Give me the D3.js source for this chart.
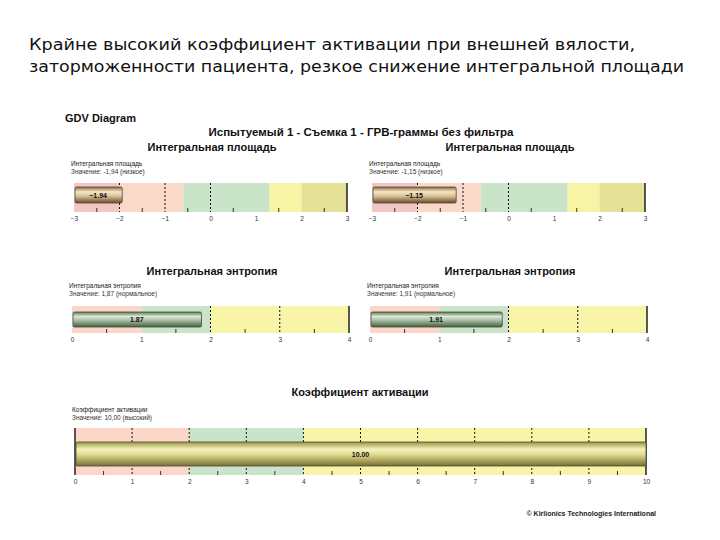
<!DOCTYPE html>
<html><head><meta charset="utf-8">
<script src="https://cdn.jsdelivr.net/npm/d3@7"></script>
<style>body{margin:0;background:#fff}svg{display:block}</style>
</head><body>
<svg id="c" width="720" height="540"></svg>
<script>
// ---------- data ----------
const headline = ["Крайне высокий коэффициент активации при внешней вялости,",
                  "заторможенности пациента, резкое снижение интегральной площади"];
const areaTicks = [-3, -2, -1, 0, 1, 2, 3];
const areaZoneBreaks = [-3, -2, -0.6, 1.3, 2, 3];
const areaDashed = [-2, -1, 0];
const areaValues = [-1.94, -1.15];
const areaNotes = ["Значение: -1,94 (низкое)", "Значение: -1,15 (низкое)"];

const entropyTicks = [0, 1, 2, 3, 4];
const entropyZoneBreaks = [0, 1, 2, 4];
const entropyDashed = [2, 3];
const entropyValues = [1.87, 1.91];
const entropyNotes = ["Значение: 1,87 (нормальное)", "Значение: 1,91 (нормальное)"];

const activationTicks = [0, 1, 2, 3, 4, 5, 6, 7, 8, 9, 10];
const activationZoneBreaks = [0, 2, 4, 10];
const activationDashed = [1, 2, 3, 4, 5, 6, 7, 8, 9];
const activationValue = 10.00;
const activationNote = "Значение: 10,00 (высокий)";

// ---------- drawing ----------
const svg = d3.select("#c");
const F = "'Liberation Sans', Arial, sans-serif";

const defs = svg.append("defs");
function grad(id, stops) {
  const g = defs.append("linearGradient").attr("id", id).attr("x1", 0).attr("y1", 0).attr("x2", 0).attr("y2", 1);
  stops.forEach(s => g.append("stop").attr("offset", s[0]).attr("stop-color", s[1]));
}
grad("gArea", [[0, "#8c6a40"], [0.3, "#f4e6c6"], [0.55, "#dcc49a"], [1, "#6a4c28"]]);
grad("gEnt", [[0, "#5f7b5c"], [0.3, "#dce8d4"], [0.55, "#a9c0a2"], [1, "#445e42"]]);
grad("gAct", [[0, "#9a9440"], [0.3, "#f5f3bc"], [0.55, "#dcd68a"], [1, "#767030"]]);

// headline
headline.forEach((t, i) => {
  svg.append("text").attr("x", 29).attr("y", 50 + i * 22)
    .attr("font-family", "'DejaVu Sans Condensed','DejaVu Sans',sans-serif").attr("font-size", 16)
    .attr("textLength", i === 0 ? 606 : 655).attr("lengthAdjust", "spacingAndGlyphs")
    .attr("fill", "#111").text(t);
});

svg.append("text").attr("x", 65).attr("y", 122).attr("font-family", F).attr("font-weight", "bold")
  .attr("font-size", 11).attr("fill", "#111").text("GDV Diagram");
svg.append("text").attr("x", 361).attr("y", 136).attr("text-anchor", "middle").attr("font-family", F)
  .attr("font-weight", "bold").attr("font-size", 11.5).attr("fill", "#111")
  .text("Испытуемый 1 - Съемка 1 - ГРВ-граммы без фильтра");

function panel(o) {
  const x = d3.scaleLinear().domain(d3.extent(o.ticks)).range([o.x0, o.x1]);
  const g = svg.append("g");
  g.append("text").attr("x", o.titleX).attr("y", o.titleY).attr("text-anchor", "middle")
    .attr("font-family", F).attr("font-weight", "bold").attr("font-size", 11).attr("fill", "#111").text(o.title);
  g.append("text").attr("x", o.x0 - 3).attr("y", o.noteY).attr("font-family", F).attr("font-size", 6.5)
    .attr("fill", "#222").text(o.title);
  g.append("text").attr("x", o.x0 - 3).attr("y", o.noteY + 7.5).attr("font-family", F).attr("font-size", 6.5)
    .attr("fill", "#333").text(o.note);
  // zones
  const zones = d3.pairs(o.breaks);
  g.selectAll("rect.z").data(zones).join("rect").attr("class", "z")
    .attr("x", d => x(d[0])).attr("width", d => x(d[1]) - x(d[0]))
    .attr("y", o.top).attr("height", o.bot - o.top).attr("fill", (d, i) => o.colors[i]);
  // minor ticks
  const minor = d3.range(o.ticks[0] + 0.5, o.ticks[o.ticks.length - 1], 1);
  g.selectAll("line.m").data(minor).join("line").attr("class", "m")
    .attr("x1", d => x(d)).attr("x2", d => x(d)).attr("y1", o.bot - 4).attr("y2", o.bot)
    .attr("stroke", "#333").attr("stroke-width", 1);
  // dashed lines
  g.selectAll("line.d").data(o.dashed).join("line").attr("class", "d")
    .attr("x1", d => x(d)).attr("x2", d => x(d)).attr("y1", o.top).attr("y2", o.bot)
    .attr("stroke", "#111").attr("stroke-width", 1).attr("stroke-dasharray", "2,2");
  // end lines
  g.selectAll("line.e").data(o.ends).join("line").attr("class", "e")
    .attr("x1", d => x(d)).attr("x2", d => x(d)).attr("y1", o.top).attr("y2", o.bot)
    .attr("stroke", "#000").attr("stroke-width", 1.3);
  // bar
  const v = o.value;
  g.append("rect").attr("x", x(o.ticks[0]) + 1).attr("width", x(v) - x(o.ticks[0]) - 1)
    .attr("y", o.barTop).attr("height", o.barBot - o.barTop).attr("rx", 1.5)
    .attr("fill", `url(#${o.grad})`).attr("stroke", "#4a4a3a").attr("stroke-width", 0.8);
  g.append("text").attr("x", (x(o.ticks[0]) + x(v)) / 2).attr("y", (o.barTop + o.barBot) / 2 + 2.5)
    .attr("text-anchor", "middle").attr("font-family", F).attr("font-weight", "bold")
    .attr("font-size", 7).attr("fill", "#111").text(d3.format(".2f")(v));
  // axis labels
  const ax = g.append("g").attr("transform", `translate(0,${o.bot + 2})`)
    .call(d3.axisBottom(x).tickValues(o.ticks).tickSize(0).tickPadding(2).tickFormat(d3.format("d")));
  ax.select(".domain").remove();
  ax.selectAll("text").attr("font-family", F).attr("font-size", 6.5).attr("fill", "#333");
}

const areaColors = ["#f3c6c3", "#fbd9c9", "#c9e4c9", "#f7f4a6", "#e5e196"];
const triColors = ["#fbd6c9", "#c9e4c9", "#f8f5a8"];

[74, 372].forEach((x0, i) => {
  panel({ title: "Интегральная площадь", note: areaNotes[i], ticks: areaTicks, breaks: areaZoneBreaks,
    colors: areaColors, dashed: areaDashed, ends: [3], value: areaValues[i], grad: "gArea",
    x0: x0, x1: x0 + 273, titleX: x0 + 138, titleY: 151, noteY: 166,
    top: 183, bot: 212, barTop: 187, barBot: 203 });
  panel({ title: "Интегральная энтропия", note: entropyNotes[i], ticks: entropyTicks, breaks: entropyZoneBreaks,
    colors: triColors, dashed: entropyDashed, ends: [4], value: entropyValues[i], grad: "gEnt",
    x0: x0 - 2, x1: x0 + 275, titleX: x0 + 138, titleY: 275, noteY: 288,
    top: 306, bot: 333, barTop: 312, barBot: 327 });
});

panel({ title: "Коэффициент активации", note: activationNote, ticks: activationTicks, breaks: activationZoneBreaks,
  colors: triColors, dashed: activationDashed, ends: [0, 10], value: activationValue, grad: "gAct",
  x0: 75, x1: 646, titleX: 360, titleY: 396, noteY: 412,
  top: 428, bot: 475, barTop: 442, barBot: 466 });

svg.append("text").attr("x", 656).attr("y", 516).attr("text-anchor", "end").attr("font-family", F)
  .attr("font-weight", "bold").attr("font-size", 7).attr("fill", "#222")
  .text("© Kirlionics Technologies International");
</script>
</body></html>
